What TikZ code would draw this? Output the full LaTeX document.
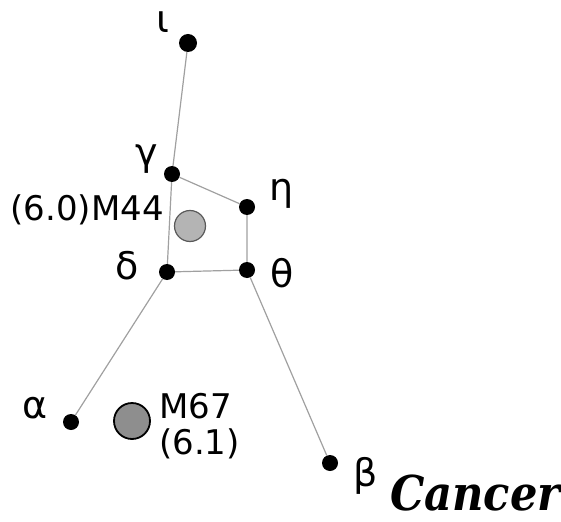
\documentclass[tikz,border=0pt]{standalone}
\usepackage{fontspec}
\setmainfont{DejaVu Sans}
\newfontfamily\titlefont{DejaVu Serif Condensed}
\usepackage{tikz}
\usetikzlibrary{positioning}
\definecolor{linegray}{HTML}{A0A0A0}
\definecolor{lightgray}{HTML}{B4B4B4}
\definecolor{midgray}{HTML}{8E8E8E}
\definecolor{rimgray}{HTML}{5A5A5A}

\begin{document}
\begin{tikzpicture}[x=1pt,y=-1pt,
    starpt/.style={circle,fill=black,inner sep=0pt,minimum size=16pt},
    lbl/.style={inner sep=0pt,font=\fontsize{34}{36}\selectfont},
    greek/.style={inner sep=0pt,font=\fontsize{38}{40}\selectfont},
    edge/.style={linegray,line width=1.2pt}]
  \useasboundingbox (0,0) rectangle (561,521);
  % stars
  \node[starpt,minimum size=18pt] (iota) at (188,43) {};
  \node[starpt] (gamma) at (172,174) {};
  \node[starpt] (eta) at (247,207) {};
  \node[starpt] (delta) at (167,272) {};
  \node[starpt] (theta) at (247,270) {};
  \node[starpt] (alpha) at (71,422) {};
  \node[starpt] (beta) at (330,463) {};
  % clusters
  \node[circle,fill=lightgray,draw=rimgray,line width=1.2pt,minimum size=31pt,inner sep=0pt] (m44) at (190,226) {};
  \node[circle,fill=midgray,draw=black,line width=1.8pt,minimum size=36pt,inner sep=0pt] (m67) at (132,421) {};
  % figure lines
  \draw[edge] (iota) -- (gamma) -- (eta) -- (theta) -- (delta) -- (gamma);
  \draw[edge] (delta) -- (alpha);
  \draw[edge] (theta) -- (beta);
  % labels
  \node[greek] (iotaL) at (163,22) {ι};
  \node[greek] (gammaL) at (147,159) {γ};
  \node[greek] (etaL) at (282,194) {η};
  \node[greek] (deltaL) at (127,266) {δ};
  \node[greek] (thetaL) at (282,273) {θ};
  \node[greek] (alphaL) at (35,408) {α};
  \node[greek] (betaL) at (366,476) {β};
  \node[lbl,anchor=east] (m44L) at (164,210) {(6.0)M44};
  \node[lbl,anchor=base west,align=left] (m67L) at (159,454) {M67\\(6.1)};
  \node[inner sep=0pt,anchor=base west,font=\titlefont\bfseries\itshape\fontsize{48}{52}\selectfont] (title) at (390,510) {Cancer};
\end{tikzpicture}
\end{document}
